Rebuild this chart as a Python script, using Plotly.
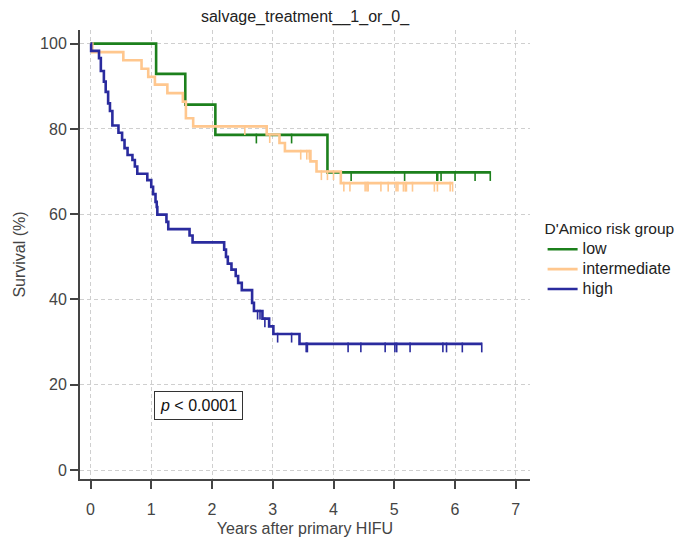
import numpy as np
import plotly.graph_objects as go

# ---- data ----
low_times = [0, 1.08, 1.56, 2.055, 3.90, 6.58]
low_surv = [100, 92.9, 85.7, 78.6, 69.8, 69.8]
low_censor = [2.73, 3.31, 4.29, 5.17, 5.70, 5.715, 5.77, 6.00, 6.33, 6.58]

int_times = [0, 0.03, 0.54, 0.84, 0.95, 1.06, 1.265, 1.52, 1.57, 1.69,
             2.90, 3.11, 3.20, 3.62, 3.72, 4.12, 5.96]
int_surv = [100, 98.0, 96.1, 94.1, 92.2, 90.4, 88.4, 86.4, 82.5, 80.6,
            78.7, 76.7, 74.8, 72.4, 70.0, 67.3, 67.3]
int_censor = [2.54, 2.95, 3.46, 3.56, 3.60, 3.80, 3.90, 4.00, 4.17, 4.27,
              4.52, 4.55, 4.57, 4.78, 4.90, 5.03, 5.06, 5.15, 5.18, 5.20,
              5.30, 5.66, 5.71, 5.92, 5.96]

high_times = [0, 0.01, 0.14, 0.17, 0.22, 0.25, 0.29, 0.32, 0.36, 0.46, 0.52,
              0.56, 0.61, 0.69, 0.73, 0.77, 0.935, 1.00, 1.03, 1.07, 1.09,
              1.10, 1.25, 1.28, 1.63, 1.68, 2.20, 2.23, 2.26, 2.32, 2.39,
              2.43, 2.49, 2.66, 2.69, 2.83, 2.94, 3.01, 3.44, 6.44]
high_surv = [100, 98.3, 96.6, 93.6, 91.1, 88.7, 86.0, 84.2, 80.8, 79.1, 77.4,
             75.5, 73.9, 72.7, 71.2, 69.5, 68.0, 66.4, 64.7, 62.9, 61.7,
             59.9, 58.2, 56.5, 55.0, 53.4, 51.7, 50.0, 48.4, 47.0, 45.5,
             43.9, 42.2, 39.2, 37.3, 35.5, 33.7, 31.9, 29.6, 29.6]
high_censor = [2.75, 2.79, 2.87, 3.08, 3.31, 3.55, 3.57, 4.24, 4.45, 4.85,
               5.01, 5.04, 5.26, 5.80, 5.86, 6.12, 6.44]

group_names = ["low", "intermediate", "high"]
group_colors = ["#1C801C", "#FFC78E", "#2A2B9E"]

title_text = "salvage_treatment__1_or_0_"
x_title = "Years after primary HIFU"
y_title = "Survival (%)"
legend_title = "D'Amico risk group"
x_ticks = [0, 1, 2, 3, 4, 5, 6, 7]
y_ticks = [0, 20, 40, 60, 80, 100]
pval_text = "<i>p</i> < 0.0001"
pval_pos = (1.775, 15.2)

FONT = "Liberation Sans, Arial, sans-serif"


def step_value(times, surv, t):
    idx = np.searchsorted(np.asarray(times), t, side="right") - 1
    return surv[max(idx, 0)]


fig = go.Figure()
groups = [(low_times, low_surv, low_censor),
          (int_times, int_surv, int_censor),
          (high_times, high_surv, high_censor)]

for (times, surv, cens), name, col in zip(groups, group_names, group_colors):
    fig.add_trace(go.Scatter(
        x=times, y=surv, mode="lines",
        name='<span style="font-size:16px">' + name + '</span>',
        line=dict(color=col, width=2.6, shape="hv"),
        hoverinfo="skip"))
    cy = [step_value(times, surv, t) - 0.85 for t in cens]
    fig.add_trace(go.Scatter(
        x=cens, y=cy, mode="markers", showlegend=False,
        marker=dict(symbol="line-ns", size=7,
                    line=dict(color=col, width=1.6)),
        hoverinfo="skip"))

fig.add_annotation(
    x=pval_pos[0], y=pval_pos[1], xref="x", yref="y", text=pval_text,
    showarrow=False, font=dict(family=FONT, size=16, color="#111111"),
    bordercolor="#333333", borderwidth=1, borderpad=5, bgcolor="white")

axis_common = dict(
    showline=True, linecolor="#444444", linewidth=2,
    ticks="outside", ticklen=8, tickwidth=2, tickcolor="#444444",
    showgrid=True, gridcolor="#cfcfcf", gridwidth=1, griddash="4px,3px",
    zeroline=False,
    tickfont=dict(family=FONT, size=16, color="#444444"),
)

fig.update_xaxes(range=[-0.173, 7.234], tickvals=x_ticks,
                 ticklabelstandoff=7,
                 title=dict(text=x_title, standoff=6,
                            font=dict(family=FONT, size=16, color="#444444")),
                 **axis_common)
fig.update_yaxes(range=[-2.1, 103.2], tickvals=y_ticks,
                 title=dict(text=y_title, standoff=10,
                            font=dict(family=FONT, size=16, color="#444444")),
                 **axis_common)

# the page body adds an 8px offset; margins compensate for it
fig.update_layout(
    width=691, height=548,
    margin=dict(l=72, r=169, t=22, b=77),
    paper_bgcolor="white", plot_bgcolor="white",
    title=dict(text=title_text, x=0.5, xref="paper", xanchor="center",
               y=1 - 8 / 548, yref="container", yanchor="middle",
               font=dict(family=FONT, size=16, color="#222222")),
    legend=dict(x=1.028, y=0.59, xanchor="left", yanchor="top",
                title=dict(text=legend_title,
                           font=dict(family=FONT, size=15.5, color="#222222")),
                font=dict(family=FONT, size=13, color="#222222"),
                itemwidth=30, tracegroupgap=0, bgcolor="rgba(0,0,0,0)"),
    showlegend=True,
)

fig.write_html("out.html")
